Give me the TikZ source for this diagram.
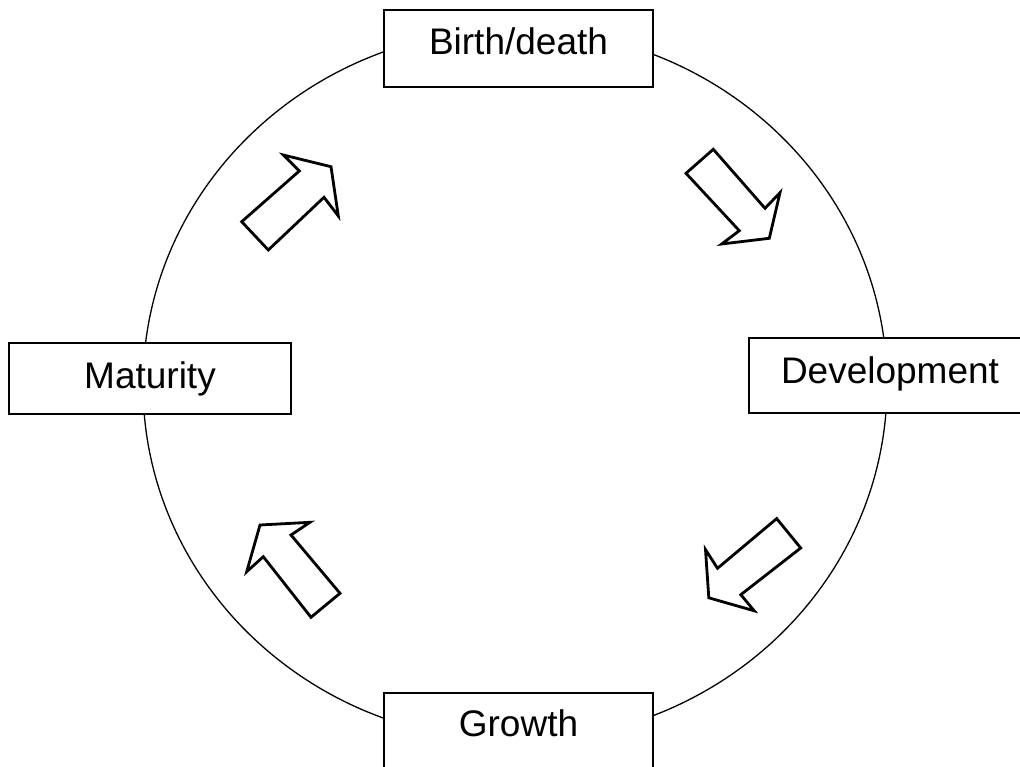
\documentclass[tikz,border=0pt]{standalone}
\usepackage{fontspec}
\setmainfont{Liberation Sans}
\begin{document}
\begin{tikzpicture}[x=1pt,y=-1pt,
  stage/.style={draw=black, line width=2pt, fill=white, inner sep=0pt, outer sep=0pt,
    font=\fontsize{37}{44}\selectfont, text height=45pt},
  blockarrow/.style={draw=black, line width=2.8pt, line join=miter, fill=white},
  cycle line/.style={draw=black, line width=1.3pt}]
\useasboundingbox (0,0) rectangle (1020,767);
\clip (0,0) rectangle (1020,767);
% cycle ellipse
\draw[cycle line] (515,385) ellipse [x radius=372pt, y radius=356pt];
% stages
\node[stage, minimum width=269pt, minimum height=77pt, text depth=32pt] (birth) at (518.5,48.5) {Birth/death};
\node[stage, minimum width=282pt, minimum height=71pt, text depth=25.7pt, text height=45.3pt] (maturity) at (150,378.5) {Maturity};
\node[stage, minimum width=282pt, minimum height=75pt, text depth=29.7pt, text height=45.3pt] (development) at (890,375.5) {Development};
\node[stage, minimum width=269pt, minimum height=75.7pt, text depth=32pt, text height=43.7pt] (growth) at (518.5,730.85) {Growth};
% block arrows
\draw[blockarrow] (241.7,221.7) -- (299.3,171) -- (283.3,155) -- (331,166.7) -- (338.3,216) -- (324,197.3) -- (268.3,250) -- cycle;
\draw[blockarrow] (713.3,149.3) -- (765,208.3) -- (780,192.7) -- (769.3,238.3) -- (721.7,244) -- (739.3,230.7) -- (686,173.3) -- cycle;
\draw[blockarrow] (776.7,518.6) -- (717.5,568.3) -- (705.5,549.6) -- (708.8,597.8) -- (754.2,610.8) -- (740.8,594.7) -- (800.7,548) -- cycle;
\draw[blockarrow] (260,525) -- (310,522.3) -- (291,535) -- (340,593.3) -- (311,617.3) -- (263.3,556.7) -- (246.7,571.7) -- cycle;
\end{tikzpicture}
\end{document}
